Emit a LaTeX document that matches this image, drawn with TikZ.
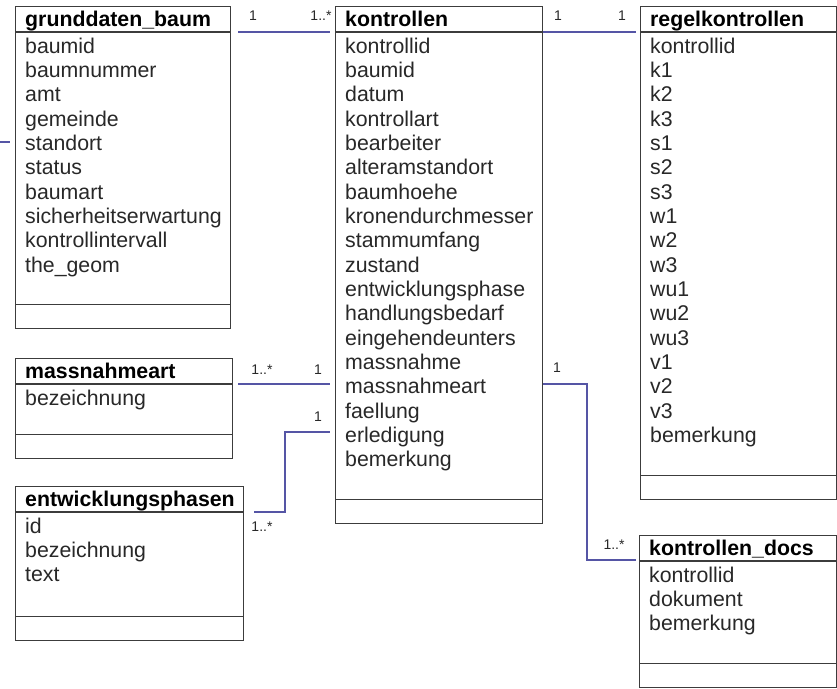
\documentclass[tikz,border=0pt]{standalone}
\usepackage{fontspec}
\setmainfont{Liberation Sans}
\usetikzlibrary{calc}
\definecolor{boxline}{RGB}{60,60,60}
\definecolor{connblue}{RGB}{85,85,165}
\definecolor{txt}{RGB}{40,40,40}
\tikzset{
  entity/.style={draw=boxline, line width=1.3pt, rectangle, anchor=north west, inner sep=0pt, fill=white},
  sepline/.style={draw=boxline, line width=1.3pt},
  head/.style={anchor=base west, inner sep=0pt, font=\fontsize{21.3}{24}\selectfont\bfseries, text=black},
  attr/.style={anchor=base west, inner sep=0pt, font=\fontsize{21.3}{24}\selectfont, text=txt},
  mult/.style={inner sep=0pt, font=\fontsize{14}{16}\selectfont, text=txt},
  conn/.style={draw=connblue, line width=2pt},
}
\newcommand{\entitybox}[8]{% name, x, y, w, h, title, list, dummy
  \node[entity, minimum width=#4pt, minimum height=#5pt] (#1) at (#2,#3) {};
  \draw[sepline] ($(#1.north west)+(0,26)$) -- ($(#1.north east)+(0,26)$);
  \draw[sepline] ($(#1.south west)+(0,-25)$) -- ($(#1.south east)+(0,-25)$);
  \node[head] (#1-h) at ($(#1.north west)+(10,20)$) {#6};
  \foreach \t [count=\i from 0] in {#7} {
    \node[attr] (#1-a\i) at ($(#1.north west)+(10,47+24.35*\i)$) {\t};
  }
}
\begin{document}
\begin{tikzpicture}[x=1pt,y=-1pt]
\useasboundingbox[fill=white] (0,0) rectangle (837,688);

\entitybox{gb}{15}{6}{215}{322}{grunddaten\_baum}{baumid,baumnummer,amt,gemeinde,standort,status,baumart,sicherheitserwartung,kontrollintervall,the\_geom}{}
\entitybox{ko}{335}{6}{207}{517}{kontrollen}{kontrollid,baumid,datum,kontrollart,bearbeiter,alteramstandort,baumhoehe,kronendurchmesser,stammumfang,zustand,entwicklungsphase,handlungsbedarf,eingehendeunters,massnahme,massnahmeart,faellung,erledigung,bemerkung}{}
\entitybox{rk}{640}{6}{196}{493}{regelkontrollen}{kontrollid,k1,k2,k3,s1,s2,s3,w1,w2,w3,wu1,wu2,wu3,v1,v2,v3,bemerkung}{}
\entitybox{ma}{15}{358}{217}{100}{massnahmeart}{bezeichnung}{}
\entitybox{ep}{15}{486}{228}{154}{entwicklungsphasen}{id,bezeichnung,text}{}
\entitybox{kd}{639}{535}{197}{152}{kontrollen\_docs}{kontrollid,dokument,bemerkung}{}

% connectors
\draw[conn] ($(gb.north east)+(7,26)$) -- ($(ko.north west)+(-5,26)$);
\draw[conn] ($(ko.north east)+(0,26)$) -- ($(rk.north west)+(-4,26)$);
\draw[conn] ($(ma.north east)+(5,26)$) -- ($(ko.north west)+(-5,378)$);
\draw[conn] ($(ep.north east)+(10,26)$) -- ++(31,0) |- ($(ko.north west)+(-5,426)$);
\draw[conn] ($(ko.north east)+(0,378)$) -- ++(44,0) |- ($(kd.north west)+(-3,25)$);
\coordinate (lft) at (0,142);
\draw[conn] (lft) -- ($(gb.north west)+(-5,136)$);

% multiplicities
\node[mult] (m1a) at (253,16) {1};
\node[mult] (m1b) at (321,16) {1..*};
\node[mult] (m2a) at (558,16) {1};
\node[mult] (m2b) at (622,16) {1};
\node[mult] (m3a) at (262,370) {1..*};
\node[mult] (m3b) at (318,370) {1};
\node[mult] (m4a) at (318,417) {1};
\node[mult] (m4b) at (262,527) {1..*};
\node[mult] (m5a) at (557,368) {1};
\node[mult] (m5b) at (614,545) {1..*};
\end{tikzpicture}
\end{document}
